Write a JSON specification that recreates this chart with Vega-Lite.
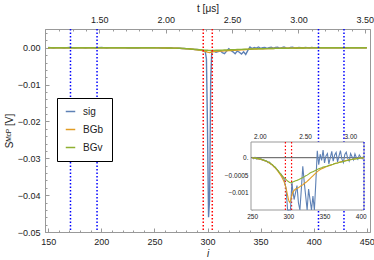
{
  "$schema": "https://vega.github.io/schema/vega-lite/v6.json",
  "width": 325,
  "height": 203,
  "autosize": "none",
  "padding": {"left": 45, "top": 29, "right": 4, "bottom": 28},
  "background": "white",
  "config": {
    "view": {"stroke": "#999", "strokeWidth": 1},
    "axis": {
      "grid": false,
      "labelFont": "Liberation Sans",
      "labelFontSize": 9,
      "labelColor": "#222",
      "titleFont": "Liberation Sans",
      "titleFontSize": 10,
      "titleFontWeight": "normal",
      "titleColor": "#222",
      "domainColor": "#999",
      "tickColor": "#999",
      "tickSize": -4,
      "labelPadding": 9
    },
    "legend": {
      "orient": "none",
      "legendX": 12,
      "legendY": 69,
      "strokeColor": "black",
      "fillColor": "white",
      "padding": 8,
      "cornerRadius": 0,
      "symbolType": "stroke",
      "symbolSize": 90,
      "symbolStrokeWidth": 1.5,
      "labelFont": "Liberation Sans",
      "labelFontSize": 10,
      "labelColor": "#222",
      "labelOffset": 7,
      "rowPadding": 7,
      "title": null
    }
  },
  "datasets": {
    "traces": [
      {"i": 150, "sig": 0.00008, "BGb": 0.00002, "BGv": 0.00001},
      {"i": 155, "sig": -0.00006, "BGb": 0.00001, "BGv": 0},
      {"i": 160, "sig": 0.00005, "BGb": -0.00001, "BGv": 0.00001},
      {"i": 165, "sig": -0.00004, "BGb": 0.00002, "BGv": 0},
      {"i": 170, "sig": 0.00006, "BGb": 0, "BGv": 0.00001},
      {"i": 175, "sig": -0.00005, "BGb": -0.00001, "BGv": 0},
      {"i": 180, "sig": 0.00004, "BGb": 0.00001, "BGv": 0},
      {"i": 185, "sig": -0.00006, "BGb": 0, "BGv": 0},
      {"i": 190, "sig": 0.00005, "BGb": 0.00002, "BGv": 0.00001},
      {"i": 195, "sig": -0.00004, "BGb": 0, "BGv": 0},
      {"i": 200, "sig": 0.00006, "BGb": -0.00001, "BGv": 0},
      {"i": 205, "sig": -0.00005, "BGb": 0.00001, "BGv": 0},
      {"i": 210, "sig": 0.00004, "BGb": 0, "BGv": 0},
      {"i": 215, "sig": -0.00003, "BGb": 0.00001, "BGv": 0},
      {"i": 220, "sig": 0.00005, "BGb": -0.00001, "BGv": 0},
      {"i": 225, "sig": -0.00004, "BGb": 0, "BGv": 0},
      {"i": 230, "sig": 0.00003, "BGb": 0.00001, "BGv": 0},
      {"i": 235, "sig": -0.00005, "BGb": 0, "BGv": 0},
      {"i": 240, "sig": 0.00004, "BGb": -0.00001, "BGv": 0},
      {"i": 245, "sig": -0.00003, "BGb": 0.00001, "BGv": 0},
      {"i": 250, "sig": 0.00002, "BGb": 0, "BGv": 0},
      {"i": 252, "sig": -0.00003, "BGb": -0.00001, "BGv": -0.00001},
      {"i": 254, "sig": 0.00001, "BGb": -0.00002, "BGv": -0.00001},
      {"i": 256, "sig": -0.00004, "BGb": -0.00001, "BGv": -0.00002},
      {"i": 258, "sig": -0.00002, "BGb": -0.00004, "BGv": -0.00002},
      {"i": 260, "sig": -0.00005, "BGb": -0.00003, "BGv": -0.00003},
      {"i": 262, "sig": -0.00003, "BGb": -0.00005, "BGv": -0.00004},
      {"i": 264, "sig": -0.00007, "BGb": -0.00006, "BGv": -0.00005},
      {"i": 266, "sig": -0.00006, "BGb": -0.00008, "BGv": -0.00007},
      {"i": 268, "sig": -0.0001, "BGb": -0.00009, "BGv": -0.00008},
      {"i": 270, "sig": -0.00009, "BGb": -0.00011, "BGv": -0.0001},
      {"i": 272, "sig": -0.00014, "BGb": -0.00012, "BGv": -0.00012},
      {"i": 274, "sig": -0.00013, "BGb": -0.00016, "BGv": -0.00014},
      {"i": 276, "sig": -0.00019, "BGb": -0.00018, "BGv": -0.00017},
      {"i": 278, "sig": -0.0002, "BGb": -0.00022, "BGv": -0.0002},
      {"i": 280, "sig": -0.00026, "BGb": -0.00025, "BGv": -0.00024},
      {"i": 282, "sig": -0.00027, "BGb": -0.0003, "BGv": -0.00028},
      {"i": 284, "sig": -0.00034, "BGb": -0.00034, "BGv": -0.00033},
      {"i": 286, "sig": -0.00037, "BGb": -0.0004, "BGv": -0.00038},
      {"i": 288, "sig": -0.00045, "BGb": -0.00046, "BGv": -0.00043},
      {"i": 290, "sig": -0.00047, "BGb": -0.00052, "BGv": -0.00048},
      {"i": 292, "sig": -0.00055, "BGb": -0.0006, "BGv": -0.00053},
      {"i": 294, "sig": -0.0006, "BGb": -0.00068, "BGv": -0.00057},
      {"i": 296, "sig": -0.0008, "BGb": -0.0008, "BGv": -0.00061},
      {"i": 297, "sig": -0.0009, "BGb": -0.00088, "BGv": -0.00063},
      {"i": 298, "sig": -0.0012, "BGb": -0.00098, "BGv": -0.00065},
      {"i": 299, "sig": -0.003, "BGb": -0.00108, "BGv": -0.00067},
      {"i": 300, "sig": -0.022, "BGb": -0.00118, "BGv": -0.00068},
      {"i": 301, "sig": -0.046, "BGb": -0.00125, "BGv": -0.0007},
      {"i": 302, "sig": -0.041, "BGb": -0.00128, "BGv": -0.00071},
      {"i": 303, "sig": -0.009, "BGb": -0.00124, "BGv": -0.00072},
      {"i": 304, "sig": -0.0011, "BGb": -0.00115, "BGv": -0.00072},
      {"i": 305, "sig": -0.0007, "BGb": -0.00108, "BGv": -0.00071},
      {"i": 306, "sig": -0.0009, "BGb": -0.001, "BGv": -0.0007},
      {"i": 308, "sig": -0.0012, "BGb": -0.00094, "BGv": -0.00068},
      {"i": 310, "sig": -0.001, "BGb": -0.0009, "BGv": -0.00066},
      {"i": 312, "sig": -0.0008, "BGb": -0.00088, "BGv": -0.00065},
      {"i": 314, "sig": -0.0013, "BGb": -0.00086, "BGv": -0.00063},
      {"i": 316, "sig": -0.0016, "BGb": -0.00083, "BGv": -0.00061},
      {"i": 318, "sig": -0.0009, "BGb": -0.0008, "BGv": -0.00059},
      {"i": 320, "sig": -0.00025, "BGb": -0.00078, "BGv": -0.00057},
      {"i": 322, "sig": -0.0007, "BGb": -0.00074, "BGv": -0.00055},
      {"i": 324, "sig": -0.0011, "BGb": -0.00071, "BGv": -0.00052},
      {"i": 326, "sig": -0.0016, "BGb": -0.00068, "BGv": -0.0005},
      {"i": 328, "sig": -0.0009, "BGb": -0.00064, "BGv": -0.00047},
      {"i": 330, "sig": -0.0012, "BGb": -0.0006, "BGv": -0.00044},
      {"i": 332, "sig": -0.0017, "BGb": -0.00056, "BGv": -0.00042},
      {"i": 334, "sig": -0.0011, "BGb": -0.00052, "BGv": -0.0004},
      {"i": 336, "sig": -0.0018, "BGb": -0.00048, "BGv": -0.00038},
      {"i": 338, "sig": -0.0007, "BGb": -0.00044, "BGv": -0.00036},
      {"i": 340, "sig": 0.0002, "BGb": -0.0004, "BGv": -0.00034},
      {"i": 342, "sig": -0.0002, "BGb": -0.00037, "BGv": -0.00032},
      {"i": 344, "sig": 0.0001, "BGb": -0.00034, "BGv": -0.0003},
      {"i": 346, "sig": -0.00008, "BGb": -0.00032, "BGv": -0.00029},
      {"i": 348, "sig": 0.00022, "BGb": -0.0003, "BGv": -0.00027},
      {"i": 350, "sig": -0.00015, "BGb": -0.00028, "BGv": -0.00026},
      {"i": 352, "sig": 0.00005, "BGb": -0.00026, "BGv": -0.00025},
      {"i": 354, "sig": 0.00012, "BGb": -0.00025, "BGv": -0.00024},
      {"i": 356, "sig": -0.00018, "BGb": -0.00023, "BGv": -0.00022},
      {"i": 358, "sig": 0.0, "BGb": -0.00022, "BGv": -0.00021},
      {"i": 360, "sig": 0.00018, "BGb": -0.0002, "BGv": -0.0002},
      {"i": 362, "sig": -0.0001, "BGb": -0.00019, "BGv": -0.00019},
      {"i": 364, "sig": 0.00008, "BGb": -0.00017, "BGv": -0.00017},
      {"i": 366, "sig": 0.00015, "BGb": -0.00016, "BGv": -0.00016},
      {"i": 368, "sig": -0.00012, "BGb": -0.00015, "BGv": -0.00015},
      {"i": 370, "sig": 0.00005, "BGb": -0.00013, "BGv": -0.00014},
      {"i": 372, "sig": 0.0002, "BGb": -0.00012, "BGv": -0.00013},
      {"i": 374, "sig": -0.00004, "BGb": -0.00011, "BGv": -0.00012},
      {"i": 376, "sig": -0.00014, "BGb": -0.0001, "BGv": -0.00011},
      {"i": 378, "sig": 0.00009, "BGb": -0.00009, "BGv": -0.0001},
      {"i": 380, "sig": 0.00016, "BGb": -0.00008, "BGv": -0.00009},
      {"i": 382, "sig": -0.00002, "BGb": -0.00007, "BGv": -0.00008},
      {"i": 384, "sig": -0.0001, "BGb": -0.00006, "BGv": -0.00007},
      {"i": 386, "sig": 0.00012, "BGb": -0.00005, "BGv": -0.00006},
      {"i": 388, "sig": 0.00003, "BGb": -0.00005, "BGv": -0.00005},
      {"i": 390, "sig": -0.00006, "BGb": -0.00004, "BGv": -0.00004},
      {"i": 392, "sig": 0.00011, "BGb": -0.00003, "BGv": -0.00004},
      {"i": 394, "sig": 0.0, "BGb": -0.00003, "BGv": -0.00003},
      {"i": 396, "sig": -0.00005, "BGb": -0.00002, "BGv": -0.00002},
      {"i": 398, "sig": 0.00008, "BGb": -0.00002, "BGv": -0.00002},
      {"i": 400, "sig": 0.00002, "BGb": -0.00001, "BGv": -0.00001},
      {"i": 402, "sig": -0.00003, "BGb": -0.00001, "BGv": -0.00001},
      {"i": 404, "sig": 0.00005, "BGb": 0, "BGv": 0},
      {"i": 410, "sig": -0.00003, "BGb": 0, "BGv": 0},
      {"i": 415, "sig": 0.00004, "BGb": 0.00001, "BGv": 0},
      {"i": 420, "sig": -0.00002, "BGb": 0, "BGv": 0},
      {"i": 425, "sig": 0.00003, "BGb": -0.00001, "BGv": 0},
      {"i": 430, "sig": -0.00002, "BGb": 0, "BGv": 0},
      {"i": 435, "sig": 0.00003, "BGb": 0.00001, "BGv": 0},
      {"i": 440, "sig": -0.00002, "BGb": 0, "BGv": 0},
      {"i": 445, "sig": 0.00002, "BGb": 0, "BGv": 0},
      {"i": 450, "sig": 0.00001, "BGb": 0, "BGv": 0}
    ],
    "rules": [
      {"i": 171, "c": "#0000ff"},
      {"i": 196, "c": "#0000ff"},
      {"i": 296, "c": "#ff0000"},
      {"i": 304.5, "c": "#ff0000"},
      {"i": 404.5, "c": "#0000ff"},
      {"i": 428.5, "c": "#0000ff"}
    ]
  },
  "resolve": {"scale": {"x": "independent", "y": "independent"}},
  "layer": [
    {
      "layer": [
        {
          "data": {"name": "traces"},
          "transform": [{"fold": ["sig", "BGb", "BGv"], "as": ["series", "S"]}],
          "mark": {"type": "line", "strokeWidth": 1.4},
          "encoding": {
            "x": {
              "field": "i", "type": "quantitative",
              "scale": {"domain": [147, 453], "nice": false, "zero": false},
              "axis": {"orient": "bottom", "values": [150, 200, 250, 300, 350, 400, 450], "format": "d", "title": "i", "titleFontStyle": "italic", "titlePadding": 2}
            },
            "y": {
              "field": "S", "type": "quantitative",
              "scale": {"domain": [-0.05, 0.0051], "nice": false, "zero": false},
              "axis": {"orient": "left", "values": [0, -0.01, -0.02, -0.03, -0.04, -0.05], "format": ".2f", "title": "Sᴹᶜᴾ [V]", "titlePadding": 3}
            },
            "color": {
              "field": "series", "type": "nominal",
              "scale": {"domain": ["sig", "BGb", "BGv"], "range": ["#5E81B5", "#E19C24", "#8FB032"]},
              "legend": {"orient": "none", "legendX": 12, "legendY": 69}
            }
          }
        },
        {
          "data": {"name": "rules"},
          "mark": {"type": "rule", "strokeDash": [1.5, 2], "strokeWidth": 1.5},
          "encoding": {
            "x": {"field": "i", "type": "quantitative"},
            "stroke": {"field": "c", "type": "nominal", "scale": null}
          }
        }
      ]
    },
    {
      "data": {"values": [{"t": 1.091}, {"t": 3.539}]},
      "mark": {"type": "rule", "opacity": 0},
      "encoding": {
        "x": {
          "field": "t", "type": "quantitative",
          "scale": {"domain": [1.091, 3.539], "nice": false, "zero": false},
          "axis": {"orient": "top", "values": [1.5, 2, 2.5, 3, 3.5], "format": ".2f", "title": "t [μs]", "titlePadding": 2}
        }
      }
    },
    {
      "data": {"values": [{"m": 147}, {"m": 453}]},
      "mark": {"type": "rule", "opacity": 0},
      "encoding": {
        "x": {
          "field": "m", "type": "quantitative",
          "scale": {"domain": [147, 453], "nice": false, "zero": false},
          "axis": {"orient": "bottom", "values": [160, 170, 180, 190, 210, 220, 230, 240, 260, 270, 280, 290, 310, 320, 330, 340, 360, 370, 380, 390, 410, 420, 430, 440], "labels": false, "domain": false, "title": null, "tickSize": -2}
        }
      }
    },
    {
      "data": {"values": [{"m": 1.091}, {"m": 3.539}]},
      "mark": {"type": "rule", "opacity": 0},
      "encoding": {
        "x": {
          "field": "m", "type": "quantitative",
          "scale": {"domain": [1.091, 3.539], "nice": false, "zero": false},
          "axis": {"orient": "top", "values": [1.2, 1.3, 1.4, 1.6, 1.7, 1.8, 1.9, 2.1, 2.2, 2.3, 2.4, 2.6, 2.7, 2.8, 2.9, 3.1, 3.2, 3.3, 3.4], "labels": false, "domain": false, "title": null, "tickSize": -2}
        }
      }
    },
    {
      "data": {"values": [{"n": -0.05}, {"n": 0.0051}]},
      "mark": {"type": "rule", "opacity": 0},
      "encoding": {
        "y": {
          "field": "n", "type": "quantitative",
          "scale": {"domain": [-0.05, 0.0051], "nice": false, "zero": false},
          "axis": {"orient": "left", "values": [0.004, 0.002, -0.002, -0.004, -0.006, -0.008, -0.012, -0.014, -0.016, -0.018, -0.022, -0.024, -0.026, -0.028, -0.032, -0.034, -0.036, -0.038, -0.042, -0.044, -0.046, -0.048], "labels": false, "domain": false, "title": null, "tickSize": -2}
        }
      }
    },
    {
      "layer": [
        {
          "data": {"values": [{"i": 248.5, "i2": 404.5, "S": -0.0015, "S2": 0.00045}]},
          "mark": {"type": "rect", "fill": "white", "stroke": "#999", "strokeWidth": 1},
          "encoding": {
            "x": {
              "field": "i", "type": "quantitative",
              "scale": {"domain": [248.5, 404.5], "range": [206, 319], "nice": false, "zero": false},
              "axis": {"orient": "bottom", "offset": -22, "values": [250, 300, 350, 400], "format": "d", "domain": false, "title": null, "labelFontSize": 6.5, "tickSize": -3, "labelPadding": 6}
            },
            "x2": {"field": "i2"},
            "y": {
              "field": "S", "type": "quantitative",
              "scale": {"domain": [-0.0015, 0.00045], "range": [181, 113], "nice": false, "zero": false, "clamp": true},
              "axis": {"orient": "left", "offset": -206, "values": [0, -0.0005, -0.001], "labelExpr": "datum.value == 0 ? '0.' : format(datum.value, '~g')", "domain": false, "title": null, "labelFontSize": 6.5, "tickSize": -3, "labelPadding": 6}
            },
            "y2": {"field": "S2"}
          }
        },
        {
          "data": {"name": "rules"},
          "transform": [{"filter": "datum.i >= 248 && datum.i <= 405"}],
          "mark": {"type": "rule", "strokeDash": [1.5, 2], "strokeWidth": 1.2},
          "encoding": {
            "x": {"field": "i", "type": "quantitative"},
            "y": {"datum": -0.0015},
            "y2": {"datum": 0.00045},
            "stroke": {"field": "c", "type": "nominal", "scale": null}
          }
        },
        {
          "data": {"values": [{"S": 0, "a": 248.5, "b": 404.5}]},
          "mark": {"type": "rule", "color": "#555", "strokeWidth": 1},
          "encoding": {
            "y": {"field": "S", "type": "quantitative"},
            "x": {"field": "a", "type": "quantitative"},
            "x2": {"field": "b"}
          }
        },
        {
          "data": {"name": "traces"},
          "transform": [
            {"filter": "datum.i >= 248 && datum.i <= 405"},
            {"fold": ["sig", "BGb", "BGv"], "as": ["series", "S"]}
          ],
          "mark": {"type": "line", "strokeWidth": 1.1},
          "encoding": {
            "x": {"field": "i", "type": "quantitative"},
            "y": {"field": "S", "type": "quantitative"},
            "color": {"field": "series", "type": "nominal"}
          }
        }
      ]
    },
    {
      "data": {"values": [{"t": 1.903}, {"t": 3.151}]},
      "mark": {"type": "rule", "opacity": 0},
      "encoding": {
        "x": {
          "field": "t", "type": "quantitative",
          "scale": {"domain": [1.903, 3.151], "range": [206, 319], "nice": false, "zero": false},
          "axis": {"orient": "top", "offset": -113, "values": [2, 2.5, 3], "format": ".2f", "domain": false, "title": null, "labelFontSize": 6.5, "tickSize": -3, "labelPadding": 6}
        }
      }
    }
  ]
}
